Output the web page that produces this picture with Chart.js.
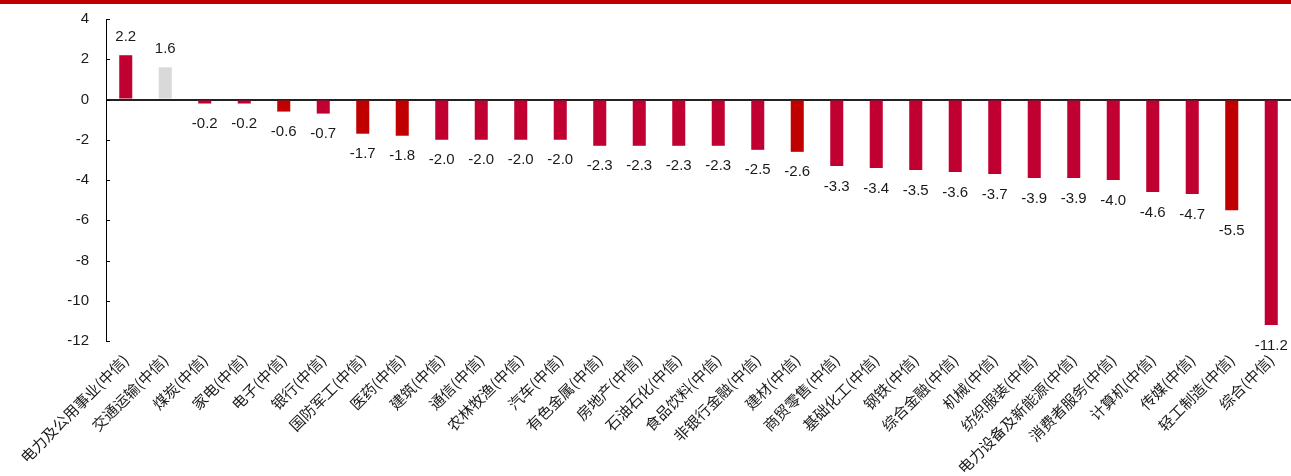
<!DOCTYPE html>
<html>
<head>
<meta charset="utf-8">
<script src="https://cdn.jsdelivr.net/npm/chart.js@4.4.1/dist/chart.umd.min.js"></script>
<style>
  html, body { margin: 0; padding: 0; background: #fff; }
  #wrap { width: 1291px; height: 472px; border-top: 4px solid #c00000; position: relative; }
</style>
</head>
<body>
<div id="wrap"><canvas id="industry-chart"></canvas></div>
<script>
const categories = ['电力及公用事业(中信)', '交通运输(中信)', '煤炭(中信)', '家电(中信)', '电子(中信)',
  '银行(中信)', '国防军工(中信)', '医药(中信)', '建筑(中信)', '通信(中信)', '农林牧渔(中信)',
  '汽车(中信)', '有色金属(中信)', '房地产(中信)', '石油石化(中信)', '食品饮料(中信)',
  '非银行金融(中信)', '建材(中信)', '商贸零售(中信)', '基础化工(中信)', '钢铁(中信)',
  '综合金融(中信)', '机械(中信)', '纺织服装(中信)', '电力设备及新能源(中信)', '消费者服务(中信)',
  '计算机(中信)', '传媒(中信)', '轻工制造(中信)', '综合(中信)'];
const changes = [2.2, 1.6, -0.2, -0.2, -0.6, -0.7, -1.7, -1.8, -2.0, -2.0, -2.0, -2.0, -2.3, -2.3,
  -2.3, -2.3, -2.5, -2.6, -3.3, -3.4, -3.5, -3.6, -3.7, -3.9, -3.9, -4.0, -4.6, -4.7, -5.5, -11.2];
// 0 = crimson, 1 = red highlight, 2 = grey
const colorGroup = [0, 2, 0, 0, 1, 0, 1, 1, 0, 0, 0, 0, 0, 0, 0, 0, 0, 1, 0, 0, 0, 0, 0, 0, 0, 0, 0, 0, 1, 0];
const yTicks = [4, 2, 0, -2, -4, -6, -8, -10, -12];

const palette = ['#c00030', '#c00000', '#d9d9d9'];

// value labels above / below the bars
const valueLabels = {
  id: 'valueLabels',
  afterDatasetsDraw(chart) {
    const ctx = chart.ctx;
    const meta = chart.getDatasetMeta(0);
    ctx.save();
    ctx.font = '15px "Liberation Sans", Arial, sans-serif';
    ctx.fillStyle = '#1a1a1a';
    ctx.textAlign = 'center';
    meta.data.forEach((bar, i) => {
      const v = changes[i];
      if (v >= 0) {
        ctx.textBaseline = 'bottom';
        ctx.fillText(v.toFixed(1), bar.x, bar.y - 11);
      } else {
        ctx.textBaseline = 'top';
        ctx.fillText(v.toFixed(1), bar.x, bar.y + 13);
      }
    });
    ctx.restore();
  }
};

// short tick marks pointing into the plot, like the original
const innerTicks = {
  id: 'innerTicks',
  afterDraw(chart) {
    const ctx = chart.ctx;
    const y = chart.scales.y;
    ctx.save();
    ctx.strokeStyle = '#000';
    ctx.lineWidth = 1;
    ctx.beginPath();
    y.ticks.forEach(t => {
      const py = Math.round(y.getPixelForValue(t.value)) + 0.5;
      ctx.moveTo(y.right, py);
      ctx.lineTo(y.right + 4, py);
    });
    ctx.stroke();
    ctx.restore();
  }
};

const ctx1 = document.getElementById('industry-chart');
const myChart1 = new Chart(ctx1, {
  type: 'bar',
  data: {
    labels: categories,
    datasets: [{
      data: changes,
      backgroundColor: colorGroup.map(g => palette[g]),
      barPercentage: 0.33,
      categoryPercentage: 1.0
    }]
  },
  options: {
    responsive: true,
    maintainAspectRatio: false,
    animation: false,
    layout: { padding: { top: 15, right: 0, left: 0, bottom: 0 } },
    plugins: {
      legend: { display: false },
      tooltip: { enabled: false }
    },
    scales: {
      x: {
        grid: { display: false },
        border: { display: false },
        ticks: {
          autoSkip: false,
          minRotation: 45,
          maxRotation: 45,
          padding: 2,
          color: '#1a1a1a',
          font: { family: '"Noto Sans CJK SC", sans-serif', size: 15 }
        },
        afterFit: s => { s.height = 135; }
      },
      y: {
        min: -12,
        max: 4,
        afterBuildTicks: s => { s.ticks = yTicks.map(v => ({ value: v })); },
        afterFit: s => { s.width = 106; },
        border: { display: true, color: '#000', width: 1 },
        grid: {
          drawTicks: true,
          tickLength: 17,
          tickColor: 'rgba(0,0,0,0)',
          color: c => (c.tick && c.tick.value === 0 ? '#222' : 'rgba(0,0,0,0)'),
          lineWidth: c => (c.tick && c.tick.value === 0 ? 2 : 0)
        },
        ticks: {
          padding: 0,
          color: '#1a1a1a',
          font: { family: '"Liberation Sans", Arial, sans-serif', size: 15 }
        }
      }
    }
  },
  plugins: [valueLabels, innerTicks]
});
</script>
</body>
</html>
